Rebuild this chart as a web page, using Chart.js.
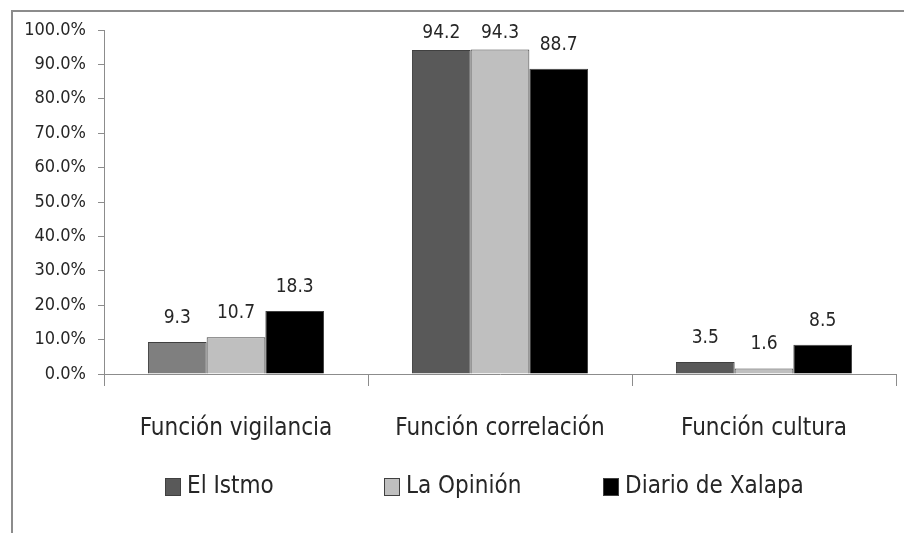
<!DOCTYPE html>
<html>
<head>
<meta charset="utf-8">
<script src="https://cdn.jsdelivr.net/npm/chart.js@4.4.1/dist/chart.umd.min.js"></script>
<style>
  html, body { margin: 0; padding: 0; background: #fff; }
  #wrap { position: relative; width: 904px; height: 533px; }
</style>
</head>
<body>
<div id="wrap"><canvas id="c" width="904" height="533"></canvas></div>
<script>
const categories = ['Función vigilancia', 'Función correlación', 'Función cultura'];
const seriesNames = ['El Istmo', 'La Opinión', 'Diario de Xalapa'];
const elIstmo = [9.3, 94.2, 3.5];
const laOpinion = [10.7, 94.3, 1.6];
const diarioXalapa = [18.3, 88.7, 8.5];
const yTickLabels = ['0.0%', '10.0%', '20.0%', '30.0%', '40.0%', '50.0%', '60.0%', '70.0%', '80.0%', '90.0%', '100.0%'];

const FONT = "'DejaVu Sans Condensed', 'Liberation Sans Narrow', 'Liberation Sans', sans-serif";
const TEXT = '#262626';
const AXIS = '#8c8c8c';

const legendColors = ['#595959', '#bfbfbf', '#000000'];

const frame = {
  id: 'frame',
  beforeDraw(chart) {
    const ctx = chart.ctx;
    ctx.save();
    ctx.fillStyle = '#fff';
    ctx.fillRect(0, 0, chart.width, chart.height);
    ctx.fillStyle = AXIS;
    ctx.fillRect(11, 10, chart.width - 11, 2);
    ctx.fillRect(11, 10, 2, chart.height - 10);
    ctx.restore();
  }
};

const valueLabels = {
  id: 'valueLabels',
  afterDatasetsDraw(chart) {
    const ctx = chart.ctx;
    ctx.save();
    ctx.font = '19px ' + FONT;
    ctx.fillStyle = TEXT;
    ctx.textAlign = 'center';
    ctx.textBaseline = 'middle';
    chart.data.datasets.forEach((ds, di) => {
      const meta = chart.getDatasetMeta(di);
      meta.data.forEach((bar, i) => {
        const y = Math.max(bar.y - 24, chart.chartArea.top + 3);
        ctx.fillText(ds.data[i].toFixed(1), bar.x, y);
      });
    });
    ctx.restore();
  }
};

const customLegend = {
  id: 'customLegend',
  afterDraw(chart) {
    const ctx = chart.ctx;
    ctx.save();
    ctx.font = '24px ' + FONT;
    ctx.textBaseline = 'middle';
    ctx.textAlign = 'left';
    const yc = 487;
    chart.data.datasets.forEach((ds, i) => {
      const x = chart.chartArea.left + 61 + i * 219;
      ctx.fillStyle = legendColors[i];
      ctx.fillRect(x, yc - 9, 16, 18);
      ctx.strokeStyle = '#404040';
      ctx.lineWidth = 1;
      ctx.strokeRect(x + 0.5, yc - 8.5, 15, 17);
      ctx.fillStyle = TEXT;
      ctx.fillText(ds.label, x + 22, yc);
    });
    ctx.restore();
  }
};

new Chart(document.getElementById('c'), {
  type: 'bar',
  data: {
    labels: categories,
    datasets: [
      { label: seriesNames[0], data: elIstmo, backgroundColor: ['#7f7f7f', '#595959', '#595959'], borderColor: '#404040', borderWidth: 1 },
      { label: seriesNames[1], data: laOpinion, backgroundColor: '#bfbfbf', borderColor: '#404040', borderWidth: 1 },
      { label: seriesNames[2], data: diarioXalapa, backgroundColor: '#000000', borderColor: '#404040', borderWidth: 1 }
    ]
  },
  options: {
    responsive: false,
    devicePixelRatio: 1,
    animation: false,
    layout: { padding: { left: 0, top: 30, right: 8, bottom: 0 } },
    datasets: { bar: { categoryPercentage: 0.667, barPercentage: 1.0 } },
    plugins: { legend: { display: false }, tooltip: { enabled: false } },
    scales: {
      x: {
        afterFit(scale) { scale.height = 159; },
        grid: { offset: true, drawOnChartArea: false, tickLength: 12, color: AXIS },
        border: { color: AXIS, width: 1 },
        ticks: { padding: 28, color: TEXT, font: { family: FONT, size: 24 } }
      },
      y: {
        min: 0, max: 100,
        afterFit(scale) { scale.width = 104; },
        grid: { drawOnChartArea: false, tickLength: 6, color: AXIS },
        border: { color: AXIS, width: 1 },
        ticks: {
          stepSize: 10, padding: 12, color: TEXT, font: { family: FONT, size: 18 },
          callback(v, idx) { return yTickLabels[idx]; }
        }
      }
    }
  },
  plugins: [frame, valueLabels, customLegend]
});
</script>
</body>
</html>
